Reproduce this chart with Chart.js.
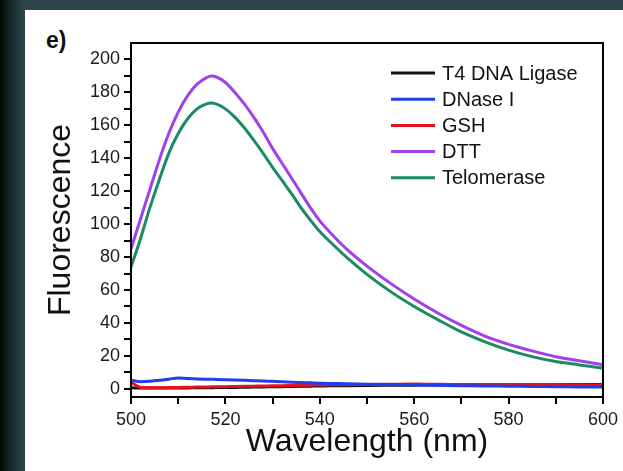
<!DOCTYPE html>
<html>
<head>
<meta charset="utf-8">
<script src="https://cdn.jsdelivr.net/npm/chart.js@4.4.1/dist/chart.umd.min.js"></script>
<style>
    html, body { margin: 0; padding: 0; }
    body {
        width: 623px; height: 471px; overflow: hidden; position: relative;
        background: linear-gradient(to right, #050808 0px, #1d3135 14px, #2b4549 24px);
    }
    .panel {
        position: absolute; left: 25px; top: 10px; width: 598px; height: 461px;
        background: #ffffff;
    }
    .tag {
        position: absolute; left: 46px; top: 27px;
        font: bold 23px "Liberation Sans", Arial, sans-serif; color: #111;
    }
    #spectra { position: absolute; left: 0; top: 0; }
</style>
</head>
<body>
<div class="panel"></div>
<div class="tag">e)</div>
<canvas id="spectra" width="623" height="471"></canvas>

<script>
// wavelength grid (nm) shared by every trace
const wavelengths = [500, 502, 504, 506, 508, 510, 512, 514, 516, 517, 518, 520, 522, 524, 526, 528,
    530, 532, 534, 536, 538, 540, 543, 546, 550, 555, 560, 565, 570, 575, 580, 585, 590, 595, 600];

const t4Ligase = [0.6, 0.4, 0.4, 0.4, 0.4, 0.5, 0.5, 0.6, 0.6, 0.6, 0.7, 0.7, 0.8, 0.9, 1.0, 1.1,
    1.2, 1.3, 1.4, 1.5, 1.6, 1.7, 1.8, 1.9, 2.0, 2.1, 2.2, 2.3, 2.3, 2.4, 2.4, 2.5, 2.5, 2.6, 2.6];

const dnase = [5.2, 4.3, 4.6, 5.2, 5.8, 6.6, 6.2, 5.9, 5.8, 5.8, 5.7, 5.5, 5.3, 5.1, 4.9, 4.7,
    4.5, 4.3, 4.0, 3.8, 3.6, 3.4, 3.2, 3.0, 2.8, 2.6, 2.3, 2.1, 1.9, 1.7, 1.6, 1.4, 1.3, 1.1, 1.0];

const gsh = [4.0, 0.9, 0.6, 0.6, 0.7, 0.8, 0.9, 1.0, 1.1, 1.2, 1.2, 1.3, 1.4, 1.5, 1.6, 1.7,
    1.8, 1.9, 2.0, 2.1, 2.2, 2.3, 2.4, 2.5, 2.6, 2.7, 2.9, 2.7, 2.6, 2.5, 2.5, 2.4, 2.4, 2.4, 2.3];

const dtt = [85, 103, 121, 139, 155, 168, 178, 185, 189, 190, 189.5, 186, 180, 173, 165, 156,
    146, 137, 128, 119, 110, 102, 92.5, 84, 74.5, 64, 54.5, 46, 38.5, 32, 27, 23, 19.5, 17, 14.5];

const telomerase = [74, 91, 110, 127, 143, 155, 164, 170, 173, 173.5, 173, 170, 165, 158.5, 151, 143,
    134.5, 126.5, 118.5, 110, 102.5, 95.5, 87, 79, 69.5, 59, 50, 42, 34.5, 28.5, 23.5, 19.5, 16.5, 14.5, 12.5];

const seriesNames = ["T4 DNA Ligase", "DNase I", "GSH", "DTT", "Telomerase"];
const seriesValues = [t4Ligase, dnase, gsh, dtt, telomerase];
const seriesColors = ["#111111", "#1f3ef0", "#e3141c", "#a040ee", "#1b8a66"];
const drawOrder = [2, 0, 1, 4, 3]; // lower = drawn later (on top)

const xTicks = [500, 510, 520, 530, 540, 550, 560, 570, 580, 590, 600];
const yTicks = [0, 10, 20, 30, 40, 50, 60, 70, 80, 90, 100, 110, 120, 130, 140, 150, 160, 170, 180, 190, 200];

const FONT = "'Liberation Sans', Arial, sans-serif";

/**
 * Box around the plot area plus the inline legend
 */
const framePlugin = {
    id: "frame",
    afterDraw(chart) {
        const { ctx, chartArea: a } = chart;
        ctx.save();
        ctx.strokeStyle = "#000";
        ctx.lineWidth = 2;
        ctx.strokeRect(a.left, a.top, a.right - a.left, a.bottom - a.top);

        // legend
        ctx.font = "20px " + FONT;
        ctx.textBaseline = "middle";
        ctx.fillStyle = "#111";
        chart.data.datasets.forEach((ds, i) => {
            const y = 73 + i * 26.2;
            ctx.strokeStyle = ds.borderColor;
            ctx.lineWidth = 3;
            ctx.beginPath();
            ctx.moveTo(391, y);
            ctx.lineTo(435, y);
            ctx.stroke();
            ctx.fillText(ds.label, 442, y + 1);
        });
        ctx.restore();
    }
};

function buildDatasets() {
    return seriesNames.map((name, i) => ({
        label: name,
        data: wavelengths.map((w, j) => ({ x: w, y: seriesValues[i][j] })),
        borderColor: seriesColors[i],
        borderWidth: 3,
        pointRadius: 0,
        cubicInterpolationMode: "monotone",
        order: drawOrder[i]
    }));
}

function initChart() {
    const ctx = document.getElementById("spectra");

    new Chart(ctx, {
        type: "line",
        data: { datasets: buildDatasets() },
        plugins: [framePlugin],
        options: {
            responsive: false,
            animation: false,
            layout: { padding: { left: 0, top: 43, right: 16, bottom: 0 } },
            plugins: { legend: { display: false }, tooltip: { enabled: false } },
            scales: {
                x: {
                    type: "linear",
                    min: 500,
                    max: 600,
                    afterBuildTicks: s => { s.ticks = xTicks.map(v => ({ value: v })); },
                    afterFit: s => { s.height = 74; },
                    grid: { drawOnChartArea: false, drawTicks: true, tickLength: 7, color: "#000", lineWidth: 2 },
                    border: { display: true, color: "#000", width: 2 },
                    ticks: {
                        autoSkip: false,
                        maxRotation: 0,
                        padding: 5,
                        color: "#1a1a1a",
                        font: { family: FONT, size: 18 },
                        callback: v => (v % 20 === 0 ? v : "")
                    },
                    title: {
                        display: true,
                        text: "Wavelength (nm)",
                        color: "#111",
                        font: { family: FONT, size: 32 },
                        padding: { top: 0, bottom: 10 }
                    }
                },
                y: {
                    min: -5,
                    max: 210,
                    afterBuildTicks: s => { s.ticks = yTicks.map(v => ({ value: v })); },
                    afterFit: s => { s.width = 131; },
                    grid: { drawOnChartArea: false, drawTicks: true, tickLength: 7, color: "#000", lineWidth: 2 },
                    border: { display: true, color: "#000", width: 2 },
                    ticks: {
                        autoSkip: false,
                        padding: 4,
                        color: "#1a1a1a",
                        font: { family: FONT, size: 18 },
                        callback: v => (v % 20 === 0 ? v : "")
                    },
                    title: {
                        display: true,
                        text: "Fluorescence",
                        color: "#111",
                        font: { family: FONT, size: 32 },
                        padding: { top: 42, bottom: 0 }
                    }
                }
            }
        }
    });
}

initChart();
</script>
</body>
</html>
